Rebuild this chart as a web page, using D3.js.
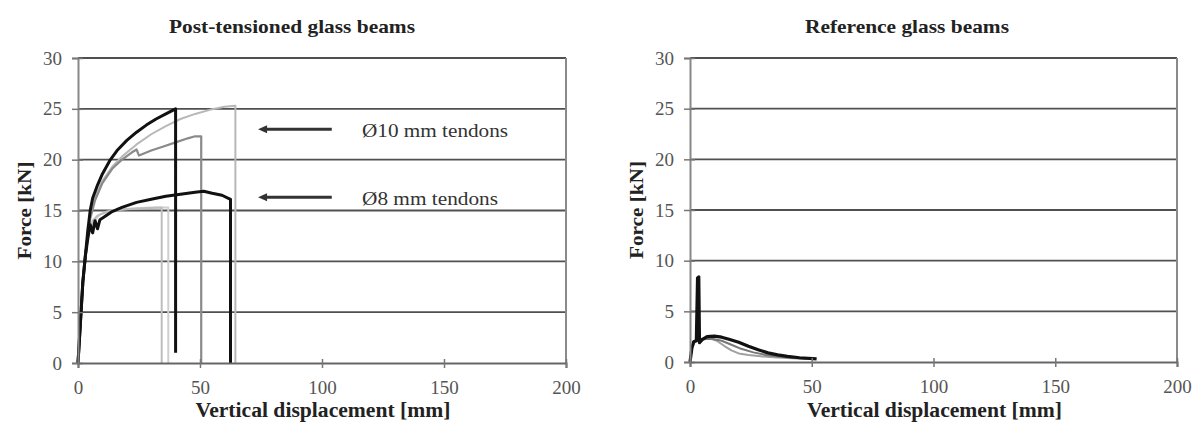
<!DOCTYPE html>
<html><head><meta charset="utf-8">
<script src="https://cdn.jsdelivr.net/npm/d3@7"></script>
<style>
html,body{margin:0;padding:0;background:#fff;}
svg{display:block;}
</style></head>
<body>
<svg id="chart" width="1203" height="430"></svg>
<script>
// ---- data ----
const xTicks = [0, 50, 100, 150, 200];
const yTicks = [0, 5, 10, 15, 20, 25, 30];
const leftTitle = "Post-tensioned glass beams";
const rightTitle = "Reference glass beams";
const xLabel = "Vertical displacement [mm]";
const yLabel = "Force [kN]";
const annotations = ["Ø10 mm tendons", "Ø8 mm tendons"];
const annotationY = [23.0, 16.3];

// Post-tensioned: Ø10 tendons
const pt10a = [[0,0],[1,4],[2,8],[3,10.5],[4,13],[5,15],[6,16.2],[8,17.5],[10,18.6],[13,19.9],[16,20.9],[20,21.9],[24,22.7],[28,23.4],[32,24],[36,24.5],[40,25],[40,1]];
const pt10b = [[0,0],[1,4],[2,8],[3,10.5],[4,12.8],[5,14.4],[7,16.3],[10,17.9],[14,19.3],[18,20.3],[24,21.5],[30,22.5],[36,23.3],[42,24],[48,24.5],[54,24.9],[60,25.2],[64.5,25.3],[64.5,0]];
const pt10c = [[0,0],[1,4],[2,8],[3,10.3],[4,12.6],[5,14.2],[7,16],[10,17.7],[14,19.1],[18,20],[22,20.7],[24,21],[25,20.4],[27,20.6],[30,20.9],[35,21.3],[40,21.7],[45,22.1],[48,22.3],[50.5,22.3],[50.5,0]];
// Post-tensioned: Ø8 tendons
const pt8a = [[0,0],[1,4],[2,8],[3,10.5],[4,12.2],[5,13.6],[6,12.8],[7,14],[8,13.2],[9,14.1],[11,14.4],[14,14.9],[18,15.3],[24,15.8],[30,16.1],[36,16.4],[42,16.6],[48,16.8],[51.5,16.9],[55,16.7],[59,16.5],[62.5,16.1],[62.5,0]];
const pt8b = [[0,0],[1,4],[2,8],[3,10.6],[4,12.4],[5,13.4],[6,14],[8,14.5],[12,14.9],[18,15.1],[25,15.2],[34.3,15.3],[34.3,0]];
const pt8c = [[0,0],[1,4],[2,8],[3,10.6],[4,12.5],[6,13.8],[9,14.6],[14,15],[22,15.2],[30,15.3],[37,15.3],[37,0]];

// Reference glass beams
const refA = [[0,0],[0.8,1.4],[1.5,2.0],[2.6,2.1],[3.1,8.3],[3.6,8.4],[3.9,1.9],[5,2.2],[7,2.5],[10,2.55],[13,2.45],[16,2.25],[20,1.95],[24,1.55],[28,1.2],[32,0.9],[36,0.7],[40,0.55],[45,0.42],[52,0.3]];
const refB = [[0,0],[0.8,1.5],[2,2.1],[5,2.3],[8,2.35],[11,2.1],[14,1.6],[17,1.15],[20,0.85],[24,0.7],[30,0.55],[36,0.45],[42,0.38],[48,0.3]];
const refC = [[0,0],[0.8,1.4],[2,2.0],[5,2.25],[9,2.3],[13,2.1],[17,1.7],[21,1.3],[26,0.95],[31,0.7],[36,0.55],[42,0.42],[50,0.32]];

const leftSeries = [
  {d: pt10b, c: "#b8b8b8", w: 2},
  {d: pt8c,  c: "#cfcfcf", w: 2},
  {d: pt8b,  c: "#bdbdbd", w: 2},
  {d: pt10c, c: "#8a8a8a", w: 2.2},
  {d: pt8a,  c: "#111111", w: 3},
  {d: pt10a, c: "#111111", w: 3}
];
const rightSeries = [
  {d: refB, c: "#a0a0a0", w: 2},
  {d: refC, c: "#777777", w: 2},
  {d: refA, c: "#111111", w: 3.2}
];

// ---- drawing ----
const FONT = "'Liberation Serif','Times New Roman',serif";
const svg = d3.select("#chart");

function panel(cfg) {
  const x = d3.scaleLinear().domain([0, 200]).range([cfg.x0, cfg.x1]);
  const y = d3.scaleLinear().domain([0, 30]).range([cfg.y0, cfg.y1]);
  const g = svg.append("g");

  // horizontal gridlines
  g.selectAll("line.grid").data(yTicks.filter(t => t > 0)).join("line")
    .attr("x1", x(0)).attr("x2", x(200))
    .attr("y1", d => y(d)).attr("y2", d => y(d))
    .attr("stroke", "#505050").attr("stroke-width", 1.8);

  // right border
  g.append("line").attr("x1", x(200)).attr("x2", x(200))
    .attr("y1", y(30)).attr("y2", y(0))
    .attr("stroke", "#8a8a8a").attr("stroke-width", 2);

  // curves
  const line = d3.line().x(d => x(d[0])).y(d => y(d[1]));
  g.selectAll("path.s").data(cfg.series).join("path")
    .attr("d", s => line(s.d))
    .attr("fill", "none")
    .attr("stroke", s => s.c)
    .attr("stroke-width", s => s.w)
    .attr("stroke-linejoin", "round");

  // y axis
  const ya = g.append("g").attr("transform", `translate(${x(0)},0)`)
    .call(d3.axisLeft(y).tickValues(yTicks).tickSize(6).tickPadding(10));
  ya.attr("font-family", FONT);
  ya.select(".domain").attr("stroke", "#888").attr("stroke-width", 2);
  ya.selectAll(".tick line").attr("stroke", "#777").attr("stroke-width", 1.5).attr("x1", 5);
  ya.selectAll("text").attr("font-size", 19).attr("fill", "#555").attr("font-family", FONT);

  // x axis
  const xa = g.append("g").attr("transform", `translate(0,${y(0)})`)
    .call(d3.axisBottom(x).tickValues(xTicks).tickSize(5).tickPadding(13));
  xa.attr("font-family", FONT);
  xa.select(".domain").attr("stroke", "#666").attr("stroke-width", 2);
  xa.selectAll(".tick line").attr("stroke", "#777").attr("stroke-width", 1.5).attr("y1", -4);
  xa.selectAll("text").attr("font-size", 19).attr("fill", "#555").attr("font-family", FONT);

  // title
  g.append("text").attr("x", cfg.titleX).attr("y", 33)
    .attr("text-anchor", "middle").attr("font-size", 19).attr("font-weight", "bold")
    .attr("font-family", FONT).attr("fill", "#222")
    .attr("textLength", cfg.titleW).attr("lengthAdjust", "spacingAndGlyphs")
    .text(cfg.title);

  // x label
  g.append("text").attr("x", (cfg.x0 + cfg.x1) / 2 + 1).attr("y", 417)
    .attr("text-anchor", "middle").attr("font-size", 20).attr("font-weight", "bold")
    .attr("font-family", FONT).attr("fill", "#222")
    .attr("textLength", 255).attr("lengthAdjust", "spacingAndGlyphs")
    .text(xLabel);

  // y label
  g.append("text").attr("transform", `translate(${cfg.x0 - 47},${(cfg.y0 + cfg.y1) / 2}) rotate(-90)`)
    .attr("text-anchor", "middle").attr("font-size", 19).attr("font-weight", "bold")
    .attr("font-family", FONT).attr("fill", "#222")
    .attr("textLength", 98).attr("lengthAdjust", "spacingAndGlyphs")
    .text(yLabel);

  return {x, y};
}

const L = panel({x0: 78, x1: 566, y0: 363, y1: 58, series: leftSeries, title: leftTitle, titleX: 292, titleW: 246});
panel({x0: 690, x1: 1177, y0: 362, y1: 58, series: rightSeries, title: rightTitle, titleX: 907, titleW: 204});

// annotations with arrows (left panel)
const arrowStart = 73.8, arrowEnd = 104, textStart = 116.4;
const annoW = [146, 136];
annotations.forEach((t, i) => {
  const yy = L.y(annotationY[i]);
  svg.append("line").attr("x1", L.x(arrowStart) + 6).attr("x2", L.x(arrowEnd))
    .attr("y1", yy).attr("y2", yy).attr("stroke", "#333").attr("stroke-width", 3);
  svg.append("path")
    .attr("d", `M${L.x(arrowStart)},${yy} L${L.x(arrowStart) + 9},${yy - 4} L${L.x(arrowStart) + 9},${yy + 4} Z`)
    .attr("fill", "#333");
  svg.append("text").attr("x", L.x(textStart)).attr("y", yy + 8)
    .attr("font-size", 18).attr("font-family", FONT).attr("fill", "#333")
    .attr("textLength", annoW[i]).attr("lengthAdjust", "spacingAndGlyphs")
    .text(t);
});
</script>
</body></html>
